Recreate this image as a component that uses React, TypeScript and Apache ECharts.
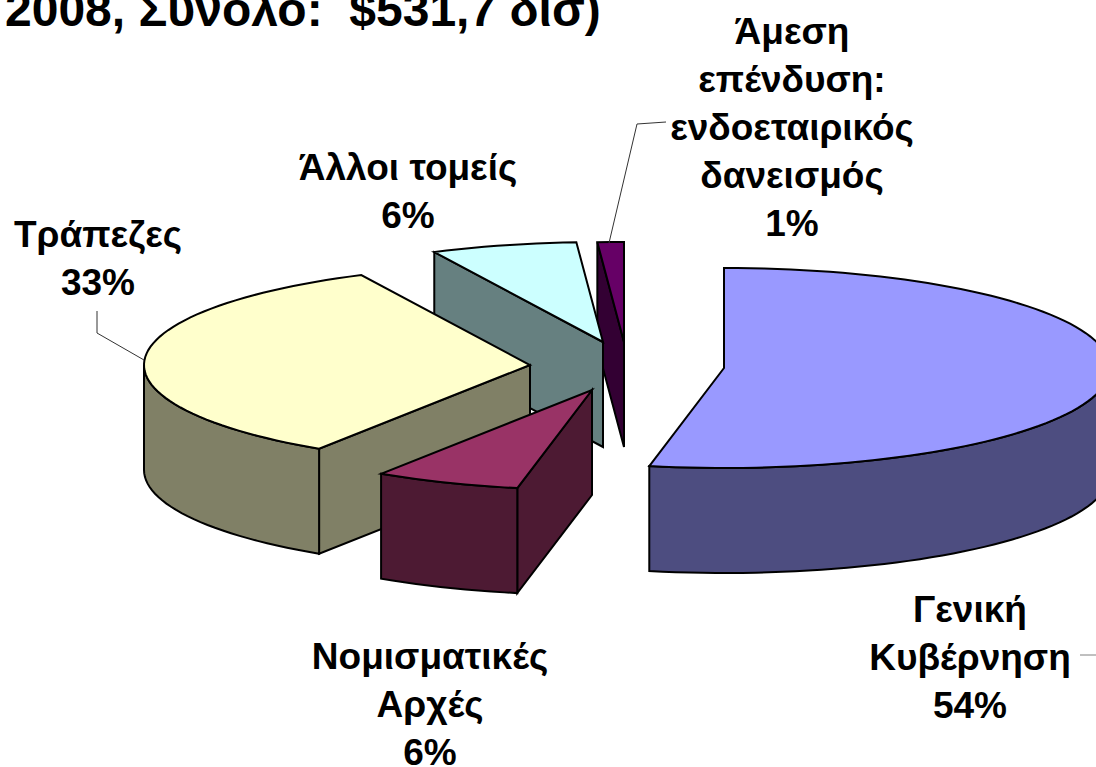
import React, { useEffect, useRef } from "react";
import * as echarts from "echarts";

const categories = ["Γενική Κυβέρνηση", "Νομισματικές Αρχές", "Τράπεζες", "Άλλοι τομείς", "Άμεση επένδυση: ενδοεταιρικός δανεισμός"];
const percentLabels = [54, 6, 33, 6, 1];
// Shares as they are actually drawn in the picture (percent of the full turn, clockwise from 12 o'clock)
const drawnShares = [53.1, 6.1, 33.6, 6.1, 1.1];
const titleText = "2008, Σύνολο:  $531,7 δισ)";
const labelLines = [
  ["Γενική", "Κυβέρνηση"],
  ["Νομισματικές", "Αρχές"],
  ["Τράπεζες"],
  ["Άλλοι τομείς"],
  ["Άμεση", "επένδυση:", "ενδοεταιρικός", "δανεισμός"],
];

// layout and style, separate from the data
const RX = 386;
const RY = 100;
const DEPTH = 105;
const apexes = [[724, 368], [592, 390], [530, 365], [603, 342], [624, 342]];
const topColors = ["#9999FF", "#993366", "#FFFFCC", "#CCFFFF", "#660066"];
const sideColors = ["#4D4D80", "#4D1A33", "#808066", "#668080", "#330033"];
const labelCentres = [[970, 585], [430, 632], [98, 210], [408, 143], [792, 7]];
const paintOrder = [0, 4, 3, 2, 1];
const LINE_H = 48;
const FONT = 'bold 37px "Liberation Sans", Arial, sans-serif';

const rim = (i: number, deg: number): number[] => {
  const r = (deg * Math.PI) / 180;
  return [apexes[i][0] + RX * Math.sin(r), apexes[i][1] - RY * Math.cos(r)];
};
const down = (p: number[]): number[] => [p[0], p[1] + DEPTH];
const arc = (i: number, a: number, b: number): number[][] => {
  const pts: number[][] = [];
  const n = Math.max(2, Math.ceil((b - a) / 2));
  for (let k = 0; k <= n; k++) pts.push(rim(i, a + ((b - a) * k) / n));
  return pts;
};

const startAngles: number[] = [];
drawnShares.reduce((sum, v, i) => {
  startAngles[i] = sum;
  return sum + v;
}, 0);
const total = drawnShares.reduce((s, v) => s + v, 0);

const poly = (points: number[][], fill: string) => ({
  type: "polygon",
  shape: { points },
  style: { fill, stroke: "#000", lineWidth: 2, lineJoin: "miter" },
});

const renderSlice = (_params: any, api: any) => {
  const i = api.value(0) as number;
  const a0 = (startAngles[i] / total) * 360;
  const a1 = a0 + (api.value(1) / total) * 360;
  const apex = apexes[i];
  const children: any[] = [];
  const cutFace = (deg: number) => {
    const p = rim(i, deg);
    children.push(poly([p, apex, down(apex), down(p)], sideColors[i]));
  };
  if (a0 > 180 && a0 < 360) cutFace(a0);
  if (a1 > 0 && a1 < 180) cutFace(a1);
  const from = Math.max(a0, 90);
  const to = Math.min(a1, 270);
  if (to > from) {
    const top = arc(i, from, to);
    children.push(poly([...top, ...top.map(down).reverse()], sideColors[i]));
  }
  children.push(poly([apex, ...arc(i, a0, a1)], topColors[i]));
  return { type: "group", children };
};

const labelText = (i: number) => [...labelLines[i], `${percentLabels[i]}%`].join("\n");
const leader = (points: number[][], stroke = "#333") => ({
  type: "polyline",
  shape: { points },
  style: { fill: "none", stroke, lineWidth: 1 },
  z: 5,
});

export default function App() {
  const ref = useRef<HTMLDivElement>(null);
  useEffect(() => {
    document.body.style.margin = "0";
    const chart = echarts.init(ref.current!, null, { renderer: "svg" });
    chart.setOption({
      animation: false,
      backgroundColor: "#fff",
      series: [
        {
          type: "custom",
          coordinateSystem: "none",
          silent: true,
          clip: false,
          renderItem: renderSlice,
          encode: { value: 1 },
          data: paintOrder.map((i) => ({ name: categories[i], value: [i, drawnShares[i]] })),
        },
      ],
      graphic: [
        {
          type: "text",
          x: 5,
          y: 33,
          z: 6,
          style: {
            text: titleText,
            font: 'bold 48px "Liberation Sans", Arial, sans-serif',
            fill: "#000",
            textAlign: "left",
            textVerticalAlign: "bottom",
          },
        },
        ...categories.map((_, i) => ({
          type: "text",
          x: labelCentres[i][0],
          y: labelCentres[i][1],
          z: 6,
          style: {
            text: labelText(i),
            font: FONT,
            lineHeight: LINE_H,
            fill: "#000",
            textAlign: "center",
            textVerticalAlign: "top",
          },
        })),
        leader([[97, 311], [97, 333], [144, 360]]),
        leader([[609, 243], [637, 124], [666, 122]]),
        leader([[1080, 655], [1096, 655]], "#808080"),
      ],
    });
    return () => chart.dispose();
  }, []);
  return <div ref={ref} style={{ width: 1096, height: 767 }} />;
}
